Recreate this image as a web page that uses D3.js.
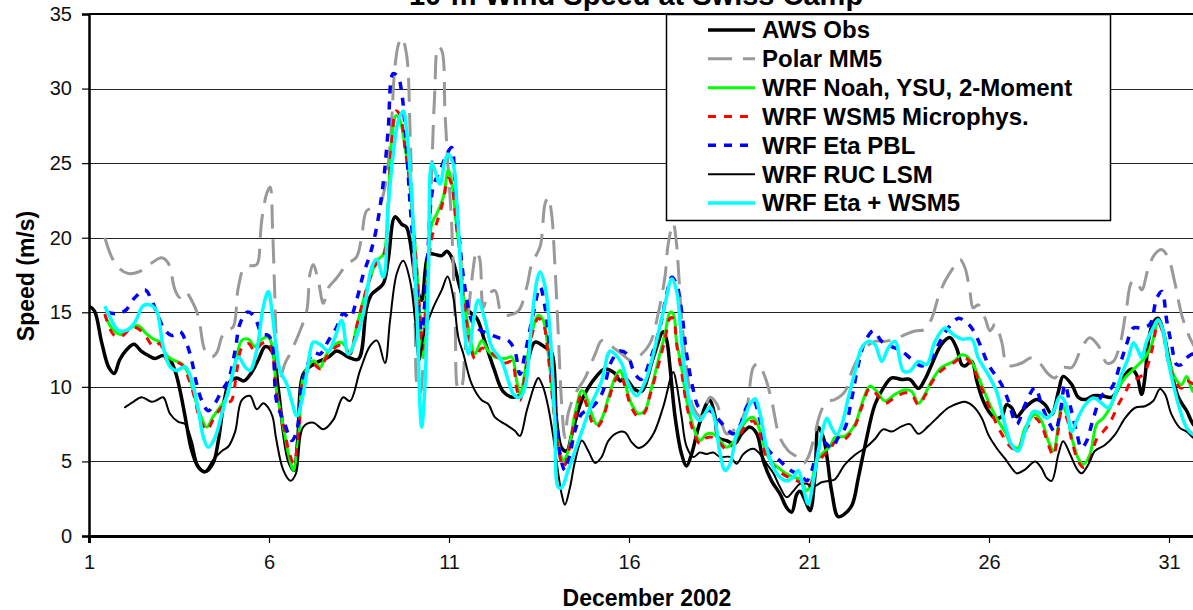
<!DOCTYPE html>
<html>
<head>
<meta charset="utf-8">
<script src="https://cdn.jsdelivr.net/npm/d3@7"></script>
<style>
  html, body { margin: 0; padding: 0; background: #fff; overflow: hidden; }
  svg { display: block; font-family: "Liberation Sans", Arial, sans-serif; }
</style>
</head>
<body>
<svg id="chart" width="1193" height="610"></svg>
<script>
// 10-m wind speed at Swiss Camp, December 2002: observations and model runs.
// Each series is a list of [day of month, speed in m/s].

const chartTitle = "10-m Wind Speed at Swiss Camp";
const xTitle = "December 2002";
const yTitle = "Speed (m/s)";
const xTicks = [1, 6, 11, 16, 21, 26, 31];
const yTicks = [0, 5, 10, 15, 20, 25, 30, 35];
const seriesNames = ["AWS Obs", "Polar MM5", "WRF Noah, YSU, 2-Moment", "WRF WSM5 Microphys.",
                     "WRF Eta PBL", "WRF RUC LSM", "WRF Eta + WSM5"];

const awsObs = [[1.0,15.4],[1.15,15.1],[1.35,13.0],[1.55,11.3],[1.7,10.9],[1.85,11.8],[2.05,12.5],[2.25,12.85],[2.45,12.4],[2.65,12.1],[2.83,11.9],[3.06,12.1],[3.25,11.8],[3.4,11.0],[3.53,9.75],[3.67,8.0],[3.85,5.75],[4.04,4.6],[4.22,4.3],[4.45,4.9],[4.6,6.5],[4.75,9.0],[4.9,10.3],[5.1,10.6],[5.3,10.4],[5.5,10.9],[5.7,11.8],[5.9,12.7],[6.1,12.3],[6.25,10.0],[6.4,7.0],[6.55,5.0],[6.69,4.4],[6.8,6.5],[6.95,10.85],[7.23,11.5],[7.65,12.0],[7.88,12.4],[8.2,12.0],[8.48,11.85],[8.71,15.3],[8.85,16.2],[9.17,16.9],[9.31,18.5],[9.5,21.4],[9.69,20.9],[9.82,20.7],[10.1,16.7],[10.24,15.8],[10.43,18.9],[10.57,18.9],[10.8,18.8],[10.94,19.1],[11.07,18.7],[11.3,16.7],[11.5,15.2],[11.77,14.6],[12.0,13.0],[12.25,11.2],[12.5,9.7],[12.79,9.3],[13.02,9.6],[13.2,11.8],[13.39,13.0],[13.67,12.65],[13.85,12.3],[13.99,7.7],[14.13,5.9],[14.27,5.7],[14.41,6.8],[14.69,9.1],[15.06,10.6],[15.33,11.2],[15.61,10.9],[15.75,10.4],[15.89,10.6],[16.17,9.8],[16.35,9.7],[16.68,12.0],[16.95,13.7],[17.05,13.1],[17.14,11.3],[17.28,8.0],[17.46,5.5],[17.6,4.7],[17.74,5.5],[17.93,7.3],[18.16,8.9],[18.25,9.1],[18.39,8.0],[18.48,6.6],[18.71,6.4],[18.94,6.2],[19.13,6.85],[19.36,7.3],[19.55,6.85],[19.73,5.05],[19.96,3.7],[20.2,2.8],[20.38,1.9],[20.52,1.6],[20.66,2.8],[20.75,3.0],[20.89,2.4],[21.03,1.7],[21.17,4.2],[21.26,7.3],[21.4,6.6],[21.5,5.3],[21.63,3.0],[21.81,1.3],[22.0,1.5],[22.2,2.1],[22.37,3.9],[22.56,6.1],[22.83,8.8],[23.06,9.9],[23.3,10.6],[23.57,10.5],[23.8,10.5],[24.04,9.9],[24.22,10.5],[24.41,11.5],[24.68,12.85],[24.92,13.3],[25.1,12.6],[25.24,11.5],[25.33,11.4],[25.52,11.7],[25.66,10.4],[25.8,9.3],[25.98,8.4],[26.17,7.9],[26.35,8.0],[26.49,8.8],[26.63,8.6],[26.77,8.0],[27.0,8.6],[27.32,9.15],[27.56,8.8],[27.74,8.15],[27.93,9.7],[28.06,10.7],[28.3,10.15],[28.48,9.3],[28.67,9.15],[28.9,9.4],[29.13,9.4],[29.41,9.3],[29.59,9.9],[29.78,10.8],[29.96,11.2],[30.1,10.8],[30.24,9.5],[30.33,10.6],[30.43,13.1],[30.56,14.3],[30.7,14.6],[30.84,13.7],[31.03,11.5],[31.26,9.3],[31.49,8.4],[31.67,7.5],[31.9,7.0]];

const polarMM5 = [[1.44,20.0],[1.63,18.7],[1.81,18.0],[2.09,17.6],[2.46,17.8],[2.74,18.3],[3.02,18.65],[3.2,18.3],[3.39,16.5],[3.52,16.0],[3.67,16.4],[3.85,15.8],[4.04,14.7],[4.22,12.45],[4.41,12.0],[4.55,12.3],[4.69,13.35],[4.82,13.8],[5.0,14.0],[5.15,16.7],[5.33,18.05],[5.66,18.2],[5.75,19.85],[5.8,21.2],[5.94,23.0],[6.03,23.4],[6.1,20.5],[6.15,17.0],[6.2,13.5],[6.3,10.6],[6.45,11.6],[6.58,12.2],[6.86,13.75],[7.05,15.1],[7.14,17.6],[7.23,18.2],[7.37,17.1],[7.51,15.6],[7.65,16.65],[7.88,17.3],[8.16,18.2],[8.43,18.7],[8.57,20.0],[8.71,21.8],[8.9,22.0],[9.08,22.25],[9.22,23.4],[9.36,26.1],[9.5,31.5],[9.6,33.0],[9.69,33.4],[9.82,32.3],[9.92,27.0],[10.0,20.0],[10.06,14.0],[10.12,10.0],[10.2,9.6],[10.3,12.5],[10.4,16.5],[10.5,23.0],[10.6,29.5],[10.7,32.8],[10.8,32.55],[10.89,28.3],[10.98,24.5],[11.07,21.1],[11.17,14.4],[11.26,9.8],[11.35,10.0],[11.44,12.2],[11.63,17.1],[11.77,19.1],[11.86,18.5],[11.95,15.3],[12.09,16.2],[12.28,16.45],[12.46,14.9],[12.65,14.8],[12.93,15.1],[13.16,16.7],[13.3,18.25],[13.53,19.4],[13.67,22.3],[13.76,22.7],[13.85,21.6],[13.94,18.25],[14.04,13.3],[14.13,8.85],[14.22,6.6],[14.31,8.2],[14.5,9.5],[14.78,10.6],[15.06,12.2],[15.24,13.1],[15.43,12.9],[15.61,12.55],[15.8,12.2],[16.07,11.75],[16.26,12.0],[16.58,12.9],[16.81,14.9],[17.0,17.4],[17.09,19.6],[17.23,20.95],[17.32,19.6],[17.37,18.0],[17.46,14.7],[17.6,11.3],[17.79,8.6],[18.02,8.0],[18.25,9.3],[18.44,8.85],[18.71,6.85],[18.99,7.3],[19.27,8.65],[19.45,11.3],[19.59,11.55],[19.78,10.65],[19.96,9.1],[20.19,6.6],[20.43,5.7],[20.66,5.3],[20.84,4.85],[20.98,5.3],[21.12,6.4],[21.31,8.2],[21.49,9.0],[21.72,9.15],[22.0,9.7],[22.19,11.05],[22.37,11.95],[22.56,12.6],[22.83,13.05],[23.11,13.05],[23.39,13.2],[23.67,13.5],[23.94,13.75],[24.22,13.85],[24.41,14.6],[24.59,16.0],[24.78,17.1],[25.01,18.0],[25.19,18.55],[25.33,18.0],[25.47,16.4],[25.56,15.3],[25.7,15.5],[25.89,14.6],[26.03,13.75],[26.17,14.2],[26.35,13.05],[26.49,11.5],[26.63,11.4],[26.91,11.6],[27.18,11.95],[27.37,11.7],[27.65,10.85],[27.83,10.6],[28.06,11.3],[28.3,11.3],[28.57,12.6],[28.8,13.3],[29.04,12.75],[29.27,11.6],[29.45,11.7],[29.64,12.85],[29.82,15.3],[29.96,17.0],[30.1,17.1],[30.24,16.5],[30.43,18.0],[30.61,18.9],[30.8,19.2],[30.98,18.65],[31.17,16.9],[31.35,14.85],[31.54,13.5],[31.67,12.85],[31.9,12.0]];

const wrfNoah = [[1.44,14.8],[1.68,13.8],[1.91,13.5],[2.19,14.0],[2.37,14.1],[2.6,13.55],[2.79,13.2],[2.97,13.0],[3.16,12.1],[3.34,11.8],[3.57,11.55],[3.76,10.9],[3.94,9.3],[4.08,8.2],[4.27,7.3],[4.45,8.0],[4.64,8.65],[4.82,9.3],[4.96,10.65],[5.1,12.0],[5.24,13.1],[5.43,13.2],[5.61,12.7],[5.8,13.2],[5.98,13.35],[6.1,12.6],[6.21,9.7],[6.4,7.3],[6.54,5.5],[6.68,4.4],[6.82,6.6],[6.95,10.6],[7.23,11.75],[7.42,11.3],[7.6,12.2],[7.97,13.0],[8.11,12.75],[8.25,12.2],[8.43,14.0],[8.62,15.8],[8.81,17.3],[8.99,18.45],[9.18,18.9],[9.31,22.25],[9.41,26.7],[9.53,28.2],[9.64,27.85],[9.78,26.05],[9.92,23.4],[10.06,19.35],[10.2,14.4],[10.26,12.0],[10.38,16.7],[10.52,20.9],[10.66,21.6],[10.84,22.7],[10.98,24.5],[11.07,23.8],[11.21,20.7],[11.31,18.9],[11.4,16.0],[11.54,14.0],[11.72,12.2],[11.91,13.1],[12.09,12.4],[12.28,12.0],[12.56,11.9],[12.74,12.0],[12.88,10.4],[12.97,9.5],[13.16,11.75],[13.34,14.0],[13.48,14.8],[13.62,14.45],[13.76,12.2],[13.9,8.85],[14.04,6.15],[14.18,5.05],[14.31,5.7],[14.5,8.2],[14.69,9.75],[14.82,9.3],[14.96,8.2],[15.1,7.5],[15.24,7.85],[15.43,9.3],[15.61,10.6],[15.75,11.1],[15.89,10.2],[16.07,8.85],[16.26,8.2],[16.44,8.4],[16.58,9.5],[16.81,11.75],[17.0,13.55],[17.14,15.0],[17.23,14.9],[17.32,13.1],[17.46,11.3],[17.6,9.1],[17.79,7.3],[17.97,6.4],[18.16,6.85],[18.34,6.85],[18.53,6.4],[18.71,5.95],[18.9,6.3],[19.08,7.05],[19.27,7.75],[19.45,7.95],[19.64,7.05],[19.82,5.5],[20.01,4.85],[20.19,4.5],[20.38,4.15],[20.56,3.95],[20.75,3.8],[20.94,3.05],[21.08,3.7],[21.21,5.05],[21.4,5.6],[21.58,6.0],[21.72,6.6],[22.0,6.7],[22.28,7.5],[22.46,8.8],[22.69,10.05],[22.88,9.7],[23.11,9.05],[23.39,9.5],[23.67,9.8],[23.85,9.7],[24.04,8.9],[24.22,9.5],[24.41,10.4],[24.68,11.3],[25.01,11.7],[25.24,12.15],[25.38,12.05],[25.56,11.5],[25.75,10.4],[25.98,9.05],[26.21,7.9],[26.44,7.0],[26.63,6.1],[26.81,5.9],[27.0,7.25],[27.28,8.15],[27.46,7.7],[27.65,6.35],[27.79,5.7],[27.93,7.5],[28.02,8.8],[28.16,8.15],[28.3,6.6],[28.48,5.2],[28.62,4.8],[28.8,5.45],[28.99,7.5],[29.17,7.9],[29.36,8.6],[29.59,9.9],[29.78,10.6],[29.96,11.05],[30.15,11.5],[30.33,11.95],[30.52,12.85],[30.7,14.4],[30.84,13.75],[30.98,11.95],[31.17,10.6],[31.35,10.15],[31.49,10.7],[31.67,9.7],[31.9,9.5]];

const wrfWSM5 = [[1.44,14.9],[1.68,13.5],[1.91,13.4],[2.19,14.0],[2.37,13.9],[2.6,13.3],[2.79,12.7],[2.97,12.9],[3.16,11.8],[3.34,11.7],[3.57,11.5],[3.76,10.6],[3.94,9.2],[4.08,7.8],[4.27,7.1],[4.45,7.8],[4.64,8.5],[4.82,8.9],[4.96,9.1],[5.1,11.0],[5.24,12.6],[5.43,12.9],[5.61,12.4],[5.8,12.9],[5.98,13.0],[6.1,12.2],[6.21,9.5],[6.4,7.5],[6.54,5.8],[6.68,4.9],[6.82,6.6],[6.95,10.4],[7.23,11.5],[7.42,11.2],[7.6,12.0],[7.97,12.8],[8.11,12.6],[8.25,12.2],[8.43,14.0],[8.62,15.8],[8.81,17.3],[8.99,18.3],[9.18,18.8],[9.31,22.0],[9.41,26.5],[9.53,28.5],[9.64,28.2],[9.78,26.0],[9.92,23.4],[10.06,19.3],[10.2,14.6],[10.26,12.5],[10.38,16.2],[10.52,20.0],[10.66,21.0],[10.84,22.5],[10.98,24.0],[11.07,23.6],[11.21,20.7],[11.31,18.9],[11.4,16.0],[11.54,13.6],[11.72,11.9],[11.91,12.6],[12.09,12.4],[12.28,12.1],[12.56,11.6],[12.74,11.7],[12.88,9.9],[12.97,9.1],[13.16,11.5],[13.34,13.8],[13.48,14.6],[13.62,14.2],[13.76,12.0],[13.9,8.6],[14.04,5.8],[14.18,4.6],[14.31,5.5],[14.5,7.9],[14.69,9.5],[14.82,8.8],[14.96,7.7],[15.1,7.3],[15.24,7.7],[15.43,9.1],[15.61,10.4],[15.75,10.9],[15.89,10.0],[16.07,8.6],[16.26,8.0],[16.44,8.3],[16.58,9.4],[16.81,11.4],[17.0,13.2],[17.14,14.6],[17.23,14.6],[17.32,12.9],[17.46,11.0],[17.6,8.8],[17.79,7.0],[17.97,6.2],[18.16,6.6],[18.34,6.6],[18.53,6.2],[18.71,5.8],[18.9,6.1],[19.08,6.8],[19.27,7.5],[19.45,7.7],[19.64,6.8],[19.82,5.3],[20.01,4.7],[20.19,4.3],[20.38,4.0],[20.56,3.8],[20.75,3.6],[20.94,3.2],[21.08,3.6],[21.21,4.8],[21.4,5.4],[21.58,5.8],[21.72,6.3],[22.0,6.5],[22.28,7.4],[22.46,8.6],[22.69,9.9],[22.88,9.5],[23.11,8.9],[23.39,9.3],[23.67,9.6],[23.85,9.5],[24.04,8.8],[24.22,9.4],[24.41,10.3],[24.68,11.1],[25.01,11.6],[25.24,12.0],[25.38,11.9],[25.56,11.3],[25.75,10.2],[25.98,8.8],[26.21,7.5],[26.44,6.5],[26.63,5.9],[26.81,5.8],[27.0,7.0],[27.28,7.9],[27.46,7.4],[27.65,6.1],[27.79,5.4],[27.93,7.2],[28.02,8.4],[28.16,7.9],[28.3,6.4],[28.48,5.0],[28.62,4.6],[28.8,5.1],[28.99,6.5],[29.17,7.0],[29.36,7.6],[29.59,8.8],[29.78,9.6],[29.96,10.4],[30.15,10.6],[30.33,11.0],[30.52,12.4],[30.7,14.3],[30.84,13.5],[30.98,11.7],[31.17,10.4],[31.35,9.9],[31.49,10.4],[31.67,10.2],[31.9,10.0]];

const wrfEtaPBL = [[1.5,15.0],[1.75,14.9],[2.0,15.1],[2.28,16.0],[2.56,16.5],[2.74,15.8],[2.93,14.7],[3.11,13.8],[3.3,13.45],[3.53,13.7],[3.71,12.9],[3.85,11.8],[3.99,10.2],[4.13,9.1],[4.31,8.4],[4.5,8.9],[4.69,9.75],[4.87,10.45],[5.06,12.45],[5.19,14.2],[5.38,15.0],[5.52,14.9],[5.66,14.35],[5.8,13.55],[5.98,13.45],[6.1,12.8],[6.21,9.05],[6.44,7.5],[6.63,6.4],[6.77,7.05],[6.91,10.0],[7.05,11.3],[7.23,12.3],[7.42,12.2],[7.65,13.1],[7.88,14.0],[8.06,14.9],[8.25,14.65],[8.43,15.8],[8.62,17.55],[8.81,18.9],[8.99,20.7],[9.18,23.8],[9.31,27.2],[9.45,31.0],[9.59,30.75],[9.69,29.65],[9.78,27.4],[9.92,22.25],[10.1,16.7],[10.24,13.75],[10.38,17.55],[10.56,23.4],[10.75,24.5],[10.94,25.6],[11.07,26.05],[11.17,23.5],[11.31,19.35],[11.44,16.7],[11.63,14.45],[11.81,13.9],[12.09,13.55],[12.37,13.3],[12.65,13.1],[12.83,12.4],[12.97,10.85],[13.11,12.2],[13.34,14.9],[13.53,16.7],[13.67,15.3],[13.81,12.2],[13.94,8.85],[14.08,5.5],[14.22,4.4],[14.36,5.5],[14.5,7.05],[14.69,8.2],[14.96,8.6],[15.24,9.5],[15.52,11.75],[15.75,12.4],[15.94,12.2],[16.17,10.85],[16.35,10.5],[16.58,11.75],[16.86,14.0],[17.05,16.25],[17.19,17.35],[17.32,16.9],[17.46,15.1],[17.6,12.2],[17.79,9.75],[17.93,8.65],[18.11,8.4],[18.25,8.4],[18.44,7.95],[18.67,7.3],[18.9,6.85],[19.08,7.4],[19.27,8.65],[19.45,9.1],[19.64,7.75],[19.82,5.95],[20.01,5.4],[20.19,5.05],[20.38,4.6],[20.56,4.3],[20.75,4.15],[20.94,3.7],[21.08,4.4],[21.21,5.5],[21.4,6.3],[21.63,5.9],[21.81,6.6],[22.0,7.25],[22.19,9.25],[22.37,11.5],[22.56,13.05],[22.79,13.75],[23.02,13.05],[23.3,12.7],[23.57,12.4],[23.85,11.85],[24.13,11.4],[24.41,11.95],[24.64,13.05],[24.87,13.95],[25.15,14.6],[25.33,14.4],[25.52,13.95],[25.75,12.85],[25.98,11.5],[26.17,10.8],[26.35,10.15],[26.54,9.05],[26.77,7.5],[27.0,8.8],[27.28,9.95],[27.46,8.8],[27.65,7.7],[27.83,7.0],[27.97,8.15],[28.11,10.15],[28.25,8.8],[28.43,7.0],[28.57,5.9],[28.71,6.35],[28.9,7.9],[29.13,9.4],[29.41,9.95],[29.64,11.5],[29.82,12.85],[30.01,13.95],[30.24,13.95],[30.47,14.2],[30.66,15.95],[30.8,16.4],[30.94,14.4],[31.07,12.85],[31.21,11.5],[31.35,11.5],[31.49,11.95],[31.67,12.2],[31.9,12.0]];

const wrfRUC = [[1.98,8.6],[2.23,9.0],[2.46,9.3],[2.74,9.0],[2.88,9.1],[3.06,9.3],[3.25,8.2],[3.48,7.65],[3.67,7.5],[3.85,6.4],[4.04,4.7],[4.22,4.35],[4.45,5.1],[4.69,5.7],[4.87,6.0],[5.06,7.0],[5.24,9.1],[5.47,9.4],[5.66,8.5],[5.84,8.9],[5.98,8.6],[6.1,8.0],[6.2,6.5],[6.4,4.4],[6.6,3.7],[6.75,4.2],[6.95,7.3],[7.23,7.6],[7.51,7.15],[7.79,7.8],[8.06,9.3],[8.25,9.05],[8.53,11.1],[8.81,12.75],[9.0,13.1],[9.22,11.6],[9.36,14.4],[9.55,17.6],[9.73,18.45],[9.92,17.1],[10.06,14.4],[10.17,11.7],[10.3,13.5],[10.56,15.3],[10.8,16.5],[10.96,17.4],[11.12,16.0],[11.26,13.3],[11.4,12.2],[11.63,10.2],[11.91,9.1],[12.09,8.85],[12.28,7.95],[12.56,7.5],[12.83,7.05],[12.97,6.7],[13.16,8.4],[13.39,10.2],[13.48,10.6],[13.62,9.95],[13.76,8.6],[13.9,6.6],[14.04,4.1],[14.13,2.8],[14.22,2.1],[14.36,3.25],[14.5,5.0],[14.69,6.4],[14.87,5.7],[15.06,4.9],[15.24,5.3],[15.43,6.4],[15.7,6.95],[15.89,6.95],[16.07,6.3],[16.26,5.9],[16.44,6.1],[16.68,6.85],[16.95,8.65],[17.23,11.0],[17.32,10.2],[17.46,8.0],[17.6,6.0],[17.79,5.3],[17.97,5.6],[18.16,5.5],[18.34,5.6],[18.53,5.3],[18.81,5.3],[18.99,4.85],[19.18,5.5],[19.45,5.85],[19.64,5.5],[19.82,4.85],[20.01,4.2],[20.19,3.3],[20.38,2.6],[20.56,3.0],[20.75,3.5],[20.94,3.5],[21.12,3.3],[21.35,3.6],[21.58,3.7],[21.72,3.8],[22.0,4.8],[22.28,5.45],[22.56,5.9],[22.83,6.5],[23.06,7.15],[23.3,7.0],[23.57,7.35],[23.8,7.5],[24.04,6.85],[24.31,7.35],[24.59,8.0],[24.87,8.6],[25.15,8.9],[25.33,9.0],[25.56,8.7],[25.8,7.9],[25.98,6.8],[26.21,5.9],[26.44,5.2],[26.68,4.4],[26.77,4.2],[27.0,4.45],[27.28,5.0],[27.46,4.55],[27.6,3.9],[27.74,3.7],[27.93,5.5],[28.06,6.35],[28.25,5.5],[28.43,4.55],[28.57,4.2],[28.76,4.8],[28.94,5.7],[29.22,6.1],[29.5,6.8],[29.78,7.9],[30.06,8.6],[30.33,8.7],[30.56,9.05],[30.75,9.85],[30.89,9.5],[31.07,8.15],[31.3,7.25],[31.49,7.0],[31.67,6.6],[31.9,6.3]];

const wrfEtaWSM5 = [[1.44,15.4],[1.63,14.45],[1.81,13.8],[2.05,13.8],[2.28,14.35],[2.51,15.45],[2.74,15.45],[2.88,15.1],[3.06,12.7],[3.25,11.35],[3.43,11.1],[3.67,11.35],[3.85,10.45],[4.04,8.4],[4.18,6.6],[4.31,5.95],[4.5,6.6],[4.69,8.2],[4.92,10.2],[5.15,12.0],[5.33,11.35],[5.47,11.1],[5.66,12.45],[5.84,15.35],[5.98,16.4],[6.1,14.7],[6.2,12.6],[6.31,11.05],[6.49,10.2],[6.63,9.05],[6.77,8.05],[6.91,9.05],[7.09,11.5],[7.23,13.0],[7.42,12.85],[7.65,12.4],[7.83,13.3],[8.02,14.45],[8.2,12.2],[8.39,13.1],[8.62,14.9],[8.85,18.0],[8.99,18.55],[9.18,17.35],[9.31,22.05],[9.45,25.6],[9.59,27.85],[9.73,28.5],[9.82,27.2],[9.96,22.9],[10.1,15.55],[10.24,7.3],[10.33,10.0],[10.43,17.8],[10.52,25.0],[10.61,24.5],[10.75,23.6],[10.89,25.2],[10.98,25.6],[11.12,24.9],[11.21,22.5],[11.31,18.5],[11.4,14.45],[11.54,12.2],[11.68,14.45],[11.81,15.8],[12.0,14.45],[12.19,12.65],[12.46,11.75],[12.65,10.4],[12.79,9.5],[12.97,9.3],[13.11,9.95],[13.3,14.45],[13.44,17.1],[13.53,17.7],[13.67,16.7],[13.81,13.55],[13.94,7.7],[14.04,3.25],[14.13,3.25],[14.31,4.4],[14.5,5.7],[14.73,7.3],[14.96,8.85],[15.24,10.4],[15.47,12.4],[15.61,12.2],[15.8,11.55],[15.98,10.2],[16.21,9.4],[16.44,10.3],[16.58,11.3],[16.81,13.55],[17.0,15.55],[17.19,17.25],[17.32,16.45],[17.46,13.1],[17.6,10.0],[17.79,8.2],[17.97,7.75],[18.11,8.2],[18.25,8.65],[18.39,7.75],[18.53,5.5],[18.67,4.4],[18.81,4.85],[18.99,6.85],[19.18,7.75],[19.36,8.85],[19.5,9.2],[19.64,8.2],[19.82,5.95],[20.01,4.6],[20.19,3.95],[20.38,3.7],[20.56,3.95],[20.7,4.4],[20.84,3.25],[20.98,2.15],[21.12,3.7],[21.26,5.7],[21.4,7.3],[21.5,7.9],[21.63,7.25],[21.77,6.8],[21.91,7.45],[22.09,9.25],[22.28,11.05],[22.46,12.6],[22.65,13.05],[22.83,12.85],[23.02,11.7],[23.2,12.6],[23.39,13.05],[23.62,11.05],[23.8,11.05],[24.04,11.7],[24.27,11.5],[24.5,13.05],[24.78,13.95],[25.01,13.5],[25.24,13.2],[25.52,13.2],[25.7,11.95],[25.98,10.8],[26.21,9.7],[26.44,7.5],[26.63,6.1],[26.81,5.7],[27.0,7.0],[27.23,8.35],[27.42,8.25],[27.6,7.9],[27.79,8.35],[27.97,9.35],[28.11,9.0],[28.3,7.0],[28.43,7.7],[28.67,8.8],[28.9,9.25],[29.13,8.9],[29.31,8.6],[29.5,9.5],[29.68,10.8],[29.87,11.95],[30.01,12.95],[30.15,12.4],[30.24,11.95],[30.38,13.05],[30.56,13.95],[30.7,14.5],[30.84,13.7],[30.98,11.7],[31.12,10.15],[31.31,8.4],[31.49,7.25],[31.67,6.8],[31.9,6.6]];

// Line styles, in drawing order (later series are drawn on top).
const styles = [
  { data: awsObs,     color: "#000000", width: 3.5, dash: null },
  { data: polarMM5,   color: "#999999", width: 3,   dash: "24,11" },
  { data: wrfNoah,    color: "#00ff00", width: 3,   dash: null },
  { data: wrfWSM5,    color: "#ff0000", width: 3,   dash: "8,8" },
  { data: wrfEtaPBL,  color: "#0000ff", width: 3.5, dash: "8,8" },
  { data: wrfRUC,     color: "#000000", width: 2,   dash: null },
  { data: wrfEtaWSM5, color: "#00ffff", width: 3.5, dash: null }
];

const svg = d3.select("#chart");
const plotLeft = 89, plotRight = 1205, plotTop = 14, plotBottom = 536;

const x = d3.scaleLinear().domain([1, 32]).range([plotLeft, plotRight]);
const y = d3.scaleLinear().domain([0, 35]).range([plotBottom, plotTop]);

// Horizontal gridlines
svg.append("g")
  .selectAll("line")
  .data(yTicks.filter(v => v > 0 && v < 35))
  .join("line")
  .attr("x1", plotLeft).attr("x2", plotRight)
  .attr("y1", d => Math.round(y(d)) + 0.5).attr("y2", d => Math.round(y(d)) + 0.5)
  .attr("stroke", "#222").attr("stroke-width", 1);

// Top border of the plot area
svg.append("line")
  .attr("x1", plotLeft).attr("x2", plotRight)
  .attr("y1", y(35)).attr("y2", y(35))
  .attr("stroke", "#000").attr("stroke-width", 2);

svg.append("clipPath").attr("id", "plotClip")
  .append("rect").attr("x", plotLeft).attr("y", plotTop - 2)
  .attr("width", plotRight - plotLeft).attr("height", plotBottom - plotTop + 2);

const line = d3.line()
  .x(d => x(d[0]))
  .y(d => y(d[1]))
  .curve(d3.curveCatmullRom.alpha(0.5));

const plot = svg.append("g").attr("clip-path", "url(#plotClip)");
styles.forEach(s => {
  plot.append("path")
    .datum(s.data)
    .attr("fill", "none")
    .attr("stroke", s.color)
    .attr("stroke-width", s.width)
    .attr("stroke-linejoin", "round")
    .attr("stroke-dasharray", s.dash)
    .attr("d", line);
});

// Axes
const xAxis = svg.append("g")
  .attr("transform", `translate(0,${plotBottom})`)
  .call(d3.axisBottom(x).tickValues(xTicks).tickFormat(d3.format("d")).tickSize(7).tickPadding(12));
xAxis.select(".domain").attr("stroke", "#000").attr("stroke-width", 3);
xAxis.selectAll(".tick line").attr("stroke", "#000").attr("stroke-width", 1.2);
xAxis.selectAll(".tick text").attr("font-size", 20).attr("fill", "#111")
  .attr("font-family", "'Liberation Sans', Arial, sans-serif");

const yAxis = svg.append("g")
  .attr("transform", `translate(${plotLeft},0)`)
  .call(d3.axisLeft(y).tickValues(yTicks).tickFormat(d3.format("d")).tickSize(7).tickPadding(10));
yAxis.select(".domain").attr("stroke", "#000").attr("stroke-width", 2.5);
yAxis.selectAll(".tick line").attr("stroke", "#000").attr("stroke-width", 1.2);
yAxis.selectAll(".tick text").attr("font-size", 20).attr("fill", "#111")
  .attr("font-family", "'Liberation Sans', Arial, sans-serif");

// Titles (the chart title sits at the very top edge of the page)
svg.append("text")
  .attr("x", 636).attr("y", 5)
  .attr("text-anchor", "middle")
  .attr("font-size", 29).attr("font-weight", "bold")
  .text(chartTitle);

svg.append("text")
  .attr("x", 647).attr("y", 606)
  .attr("text-anchor", "middle")
  .attr("font-size", 23).attr("font-weight", "bold")
  .text(xTitle);

svg.append("text")
  .attr("transform", "translate(34,276) rotate(-90)")
  .attr("text-anchor", "middle")
  .attr("font-size", 23).attr("font-weight", "bold")
  .text(yTitle);

// Legend
const legend = svg.append("g");
legend.append("rect")
  .attr("x", 666.5).attr("y", 14.5).attr("width", 444).attr("height", 206)
  .attr("fill", "#fff").attr("stroke", "#000").attr("stroke-width", 1.5);

const rowY = d3.scaleLinear().domain([0, 6]).range([30, 203]);
seriesNames.forEach((name, i) => {
  const s = styles[i];
  const yy = rowY(i);
  legend.append("line")
    .attr("x1", 708).attr("x2", 755).attr("y1", yy).attr("y2", yy)
    .attr("stroke", s.color).attr("stroke-width", s.width)
    .attr("stroke-dasharray", s.dash);
  legend.append("text")
    .attr("x", 762).attr("y", yy)
    .attr("dy", "0.35em")
    .attr("font-size", 24).attr("font-weight", "bold")
    .text(name);
});
</script>
</body>
</html>
